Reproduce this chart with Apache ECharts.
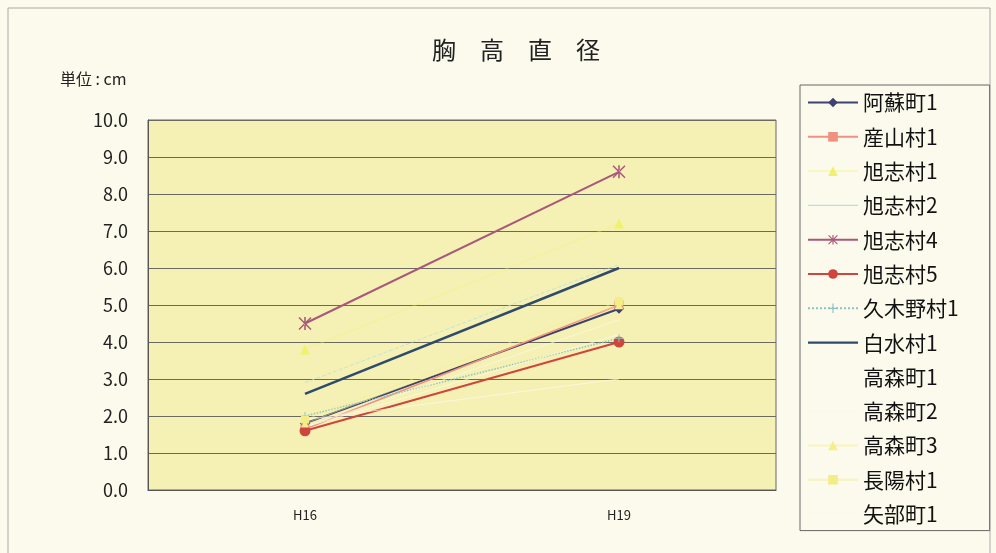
<!DOCTYPE html>
<html lang="ja">
<head>
<meta charset="UTF-8">
<title>胸高直径</title>
<script src="https://cdn.jsdelivr.net/npm/echarts@6/dist/echarts.min.js"></script>
<style>
  html, body {margin:0; padding:0; background:#fbfaec;}
  #main {width:996px; height:553px;}
</style>
</head>
<body>
<div id="main"></div>
<script>
// 年度
var years = ['H16', 'H19'];
// 各地点の胸高直径 (cm)
var aso1      = [1.8, 4.9];
var ubuyama1  = [1.65, 5.0];
var kyokushi1 = [3.8, 7.2];
var kyokushi2 = [2.9, 6.1];
var kyokushi4 = [4.5, 8.6];
var kyokushi5 = [1.6, 4.0];
var kugino1   = [2.0, 4.1];
var hakusui1  = [2.6, 6.0];
var takamori1 = [1.9, 3.0];
var takamori2 = [1.7, 4.6];
var takamori3 = [1.8, 5.0];
var choyo1    = [1.9, 5.1];
var yabe1     = [1.7, 4.2];
var yTicks = [0, 10, 1]; // min, max, interval

var starPath = 'path://M4.4,0 L5.6,0 L5.6,10 L4.4,10 Z M0,0.8 L0.8,0 L10,9.2 L9.2,10 Z M10,0.8 L9.2,0 L0,9.2 L0.8,10 Z';
var plusPath = 'path://M4.4,0 L5.6,0 L5.6,10 L4.4,10 Z M0,4.4 L10,4.4 L10,5.6 L0,5.6 Z';
// 凡例用の細い線 (マーカーなし)
var barePath = 'path://M0,0 L0.01,0 L0.01,0.01 Z M0,5.4 L50,5.4 L50,6.6 L0,6.6 Z M0,12 L0.01,12 L0.01,11.99 Z';
var thickPath = 'path://M0,0 L0.01,0 L0.01,0.01 Z M0,4.9 L50,4.9 L50,7.1 L0,7.1 Z M0,12 L0.01,12 L0.01,11.99 Z';

function line(name, data, color, symbol, size, lineType, width, opacity) {
    return {
        name: name,
        type: 'line',
        data: data,
        symbol: symbol,
        symbolSize: size,
        showSymbol: symbol !== 'none',
        itemStyle: {color: color},
        lineStyle: {color: color, width: width || 2, type: lineType || 'solid', opacity: opacity == null ? 1 : opacity},
        z: 3
    };
}

function legendItem(name, icon) {
    return icon ? {name: name, icon: icon} : {name: name};
}

var chart = echarts.init(document.getElementById('main'));
chart.setOption({
    animation: false,
    backgroundColor: '#fbfaec',
    textStyle: {fontFamily: '"Noto Sans CJK JP", "Liberation Sans", sans-serif'},
    title: [{
        text: '胸　高　直　径',
        left: 511, top: 33, textAlign: 'center',
        textStyle: {fontSize: 24, fontWeight: 'normal', color: '#222'}
    }, {
        text: '単位 : cm',
        left: 55, top: 66,
        textStyle: {fontSize: 16, fontWeight: 'normal', color: '#222'}
    }],
    graphic: [{
        type: 'rect', silent: true, z: -1,
        shape: {x: 8, y: 8, width: 982, height: 560},
        style: {fill: 'none', stroke: '#aaa', lineWidth: 1}
    }],
    legend: {
        orient: 'vertical',
        left: 800, top: 85,
        padding: [7, 31, 6, 7],
        borderColor: '#666', borderWidth: 1,
        backgroundColor: '#fbfaec',
        itemWidth: 50, itemHeight: 12, itemGap: 13.3,
        textStyle: {fontSize: 21, color: '#111'},
        data: [
            legendItem('阿蘇町1'), legendItem('産山村1'), legendItem('旭志村1'),
            legendItem('旭志村2', barePath), legendItem('旭志村4'), legendItem('旭志村5'),
            legendItem('久木野村1'), legendItem('白水村1', thickPath), legendItem('高森町1', barePath),
            legendItem('高森町2', barePath), legendItem('高森町3'), legendItem('長陽村1'),
            legendItem('矢部町1', barePath)
        ]
    },
    grid: {left: 148, right: 220, top: 120, bottom: 63, show: true,
        backgroundColor: '#f5f1b4', borderColor: '#666', borderWidth: 1},
    xAxis: {
        type: 'category',
        data: years,
        axisLine: {lineStyle: {color: '#555'}},
        axisTick: {show: false},
        axisLabel: {fontSize: 13, color: '#222', margin: 19}
    },
    yAxis: {
        type: 'value',
        min: yTicks[0], max: yTicks[1], interval: yTicks[2],
        axisLine: {show: true, lineStyle: {color: '#555'}},
        axisTick: {show: false},
        axisLabel: {fontSize: 18, color: '#222', margin: 20,
            formatter: function (v) { return v.toFixed(1); }},
        splitLine: {lineStyle: {color: '#6a6a60', width: 1}}
    },
    series: [
        line('阿蘇町1', aso1, '#3d4270', 'diamond', 10, 'solid', 2),
        line('産山村1', ubuyama1, '#f09080', 'rect', 9, 'solid', 1.5),
        line('旭志村1', kyokushi1, '#f0f26e', 'triangle', 10, 'solid', 1.5, 0.35),
        line('旭志村2', kyokushi2, '#b8e0dc', 'none', 0, 'dashed', 1, 0.8),
        line('旭志村4', kyokushi4, '#a8587a', starPath, 13, 'solid', 2),
        line('旭志村5', kyokushi5, '#d0443e', 'circle', 11, 'solid', 2),
        line('久木野村1', kugino1, '#8cc4c4', plusPath, 8, 'dotted', 1.5),
        line('白水村1', hakusui1, '#2e4a6c', 'none', 0, 'solid', 2.5),
        line('高森町1', takamori1, '#fbfaee', 'none', 0, 'solid', 1, 0.7),
        line('高森町2', takamori2, '#f9f8e8', 'none', 0, 'solid', 1, 0.7),
        line('高森町3', takamori3, '#f3ef8c', 'triangle', 8, 'solid', 1, 0.5),
        line('長陽村1', choyo1, '#f3ed88', 'rect', 8, 'solid', 1, 0.5),
        line('矢部町1', yabe1, '#faf9ea', 'none', 0, 'solid', 1, 0.7)
    ]
});
</script>
</body>
</html>
